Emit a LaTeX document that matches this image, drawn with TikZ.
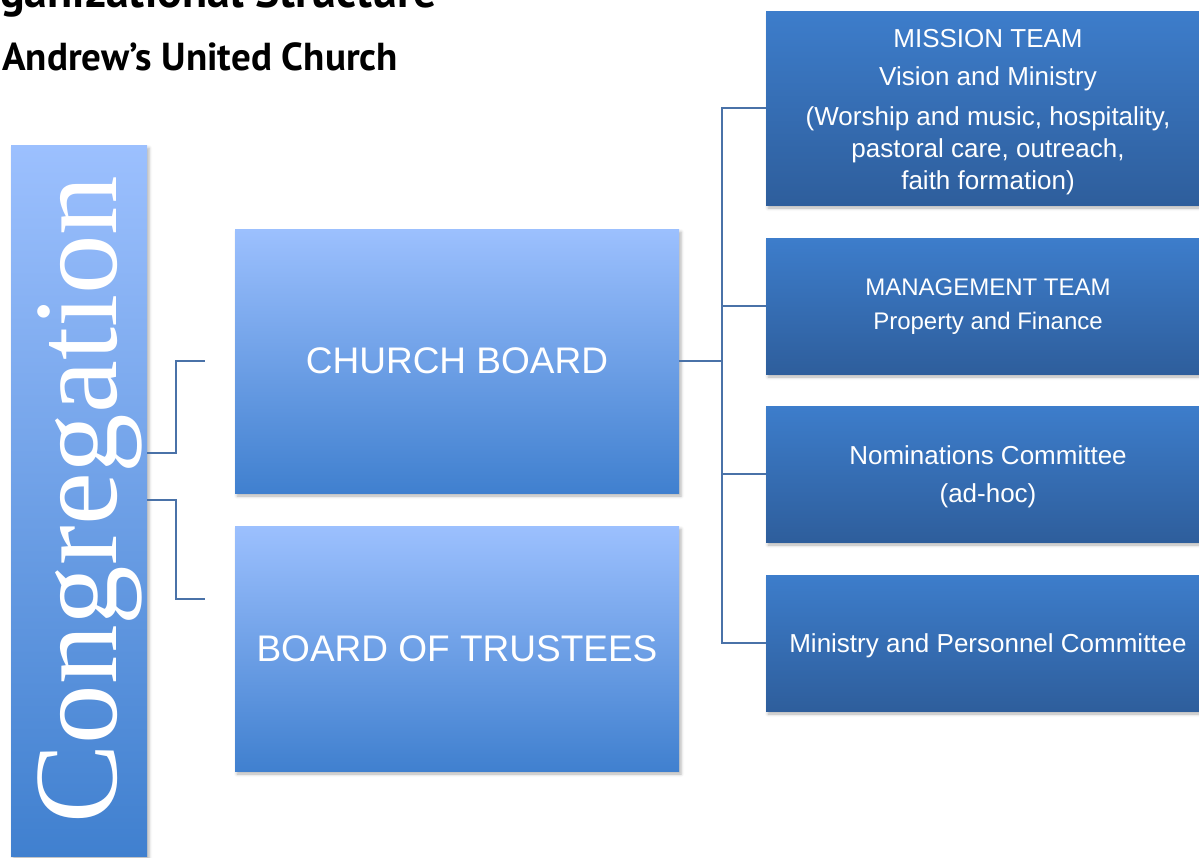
\documentclass[tikz,border=0pt]{standalone}
\usepackage{fontspec}
\setmainfont{Liberation Sans}
\newfontfamily\titlefont{PT Sans}
\newfontfamily\bigserif{Liberation Serif}
\usetikzlibrary{calc, positioning, shadows.blur}

\definecolor{paleblue}{HTML}{9CC0FE}
\definecolor{midblue}{HTML}{4080CF}
\definecolor{teamtop}{HTML}{3D7DCB}
\definecolor{teambot}{HTML}{2E5E9C}
\definecolor{linkblue}{HTML}{4A72A8}

\begin{document}
\begin{tikzpicture}[x=1pt, y=-1pt,
    every node/.style={inner sep=0pt, text=white, align=center},
    boardbox/.style={rectangle, top color=paleblue, bottom color=midblue,
        minimum width=444pt, font=\fontsize{37}{44}\selectfont,
        blur shadow={shadow xshift=2pt, shadow yshift=-3pt, shadow blur radius=3pt, shadow opacity=30}},
    teambox/.style={rectangle, top color=teamtop, bottom color=teambot,
        minimum width=444pt, minimum height=136pt,
        blur shadow={shadow xshift=2pt, shadow yshift=-3pt, shadow blur radius=3pt, shadow opacity=30}},
    teamtext/.style={font=\fontsize{26}{38}\selectfont},
    link/.style={draw=linkblue, line width=1.6pt}]

    % page frame (same size as the original slide crop)
    \useasboundingbox (0,0) rectangle (1199,857);
    \clip (0,0) rectangle (1199,857);

    % 1. heading
    \node[text=black, anchor=base west, font=\titlefont\bfseries\fontsize{46}{50}\selectfont] (head) at (0,7) {ganizational Structure};
    \node[text=black, anchor=base west, font=\titlefont\bfseries\fontsize{39}{44}\selectfont] (church) at (2,70.5) {Andrew’s United Church};

    % 2. congregation column
    \node[boardbox, minimum width=136pt, minimum height=711pt] (cong) at (79,500.5) {};
    \node[rotate=90, anchor=base, font=\bigserif\fontsize{119}{119}\selectfont] (congtext) at (116,499.5) {Congregation};

    % 3. the two boards
    \node[boardbox, minimum height=264pt] (board) at (457,361) {CHURCH BOARD};
    \node[boardbox, minimum height=245pt] (trustees) at (457,648.5) {BOARD OF TRUSTEES};

    % 4. teams and committees (box first, then its text)
    \node[teambox, minimum height=194pt] (mission) at (988,108) {};
    \node[teamtext, font=\fontsize{26}{32}\selectfont] (missiontext) at ([yshift=-4pt]mission.center)
        {MISSION TEAM\\[6pt]Vision and Ministry\\[8pt](Worship and music, hospitality,\\pastoral care, outreach,\\faith formation)};
    \node[teambox] (mgmt) at (988,306) {};
    \node[teamtext, font=\fontsize{24}{34}\selectfont] (mgmttext) at ([yshift=-1pt]mgmt.center) {MANAGEMENT TEAM\\Property and Finance};
    \node[teambox] (nomin) at (988,474) {};
    \node[teamtext] (nomintext) at ([yshift=-3pt]nomin.center) {Nominations Committee\\(ad-hoc)};
    \node[teambox] (mpc) at (988,643) {};
    \node[teamtext] (mpctext) at ([yshift=-3pt]mpc.center) {Ministry and Personnel Committee};

    % 5. connectors
    \draw[link] (cong.east |- 0,453) -- ++(29,0) |- ($(board.west)+(-30,0)$);
    \draw[link] (cong.east |- 0,500) -- ++(29,0) |- ($(trustees.west |- 0,599)+(-30,0)$);
    \draw[link] (board.east) -- ++(43,0) coordinate (hub);
    \foreach \n in {mission, mgmt, nomin, mpc} {
        \draw[link] (hub) |- (\n.west);
    }

\end{tikzpicture}
\end{document}
